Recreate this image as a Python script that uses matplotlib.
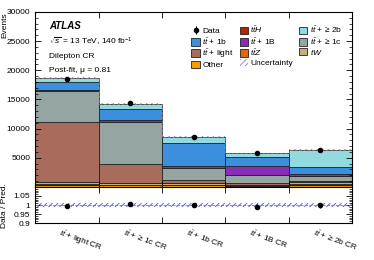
import matplotlib.pyplot as plt
import matplotlib.patches as mpatches
from matplotlib.ticker import MultipleLocator, FixedLocator
import numpy as np

plt.rcParams['font.family'] = ['Liberation Sans', 'DejaVu Sans']
plt.rcParams['mathtext.fontset'] = 'custom'
plt.rcParams['mathtext.rm'] = 'Liberation Sans'
plt.rcParams['mathtext.it'] = 'Liberation Sans:italic'
plt.rcParams['mathtext.bf'] = 'Liberation Sans:bold'
plt.rcParams['hatch.linewidth'] = 0.6

# Regions
regions = [r"$t\bar{t}$ + light CR", r"$t\bar{t}$ + ≥ 1c CR", r"$t\bar{t}$ + 1b CR",
           r"$t\bar{t}$ + 1B CR", r"$t\bar{t}$ + ≥ 2b CR"]

# Stack components (bottom to top)
other = [350, 300, 250, 150, 300]
ttz = [60, 60, 60, 50, 80]
tth = [50, 50, 60, 50, 100]
tw = [400, 350, 250, 150, 350]
tt_light = [10340, 3240, 580, 200, 120]
tt_1c = [5200, 7100, 2000, 1500, 950]
tt_1B = [300, 400, 400, 1500, 300]
tt_1b = [1300, 1800, 3900, 1500, 1200]
tt_2b = [700, 1000, 1100, 700, 3000]

data = [18550, 14400, 8600, 5750, 6390]
unc = [190, 140, 90, 60, 65]

stack = [
    (other, '#f5a000', 'Other'),
    (ttz, '#e8650a', r'$t\bar{t}Z$'),
    (tth, '#b82000', r'$t\bar{t}H$'),
    (tw, '#c2b27a', r'$tW$'),
    (tt_light, '#a86c5c', r'$t\bar{t}$ + light'),
    (tt_1c, '#95a5a2', r'$t\bar{t}$ + ≥ 1c'),
    (tt_1B, '#8a2cb8', r'$t\bar{t}$ + 1B'),
    (tt_1b, '#3b8fdc', r'$t\bar{t}$ + 1b'),
    (tt_2b, '#92dade', r'$t\bar{t}$ + ≥ 2b'),
]

fs = 6
x = np.arange(len(regions)) + 0.5
fig = plt.figure(figsize=(3.74, 2.6), dpi=100)
ax = fig.add_axes([0.094, 0.281, 0.847, 0.673])
rax = fig.add_axes([0.094, 0.142, 0.847, 0.139], sharex=ax)

bottom = np.zeros(len(x))
handles = {}
for vals, col, lab in stack:
    vals = np.array(vals, float)
    ax.bar(x, vals, width=1.0, bottom=bottom, color=col, edgecolor='#222222', linewidth=0.6)
    handles[lab] = mpatches.Patch(facecolor=col, edgecolor='#222222', linewidth=0.6, label=lab)
    bottom += vals
total = bottom
unc = np.array(unc, float)
data = np.array(data, float)

ax.bar(x, 2 * unc, width=1.0, bottom=total - unc, fill=False, hatch='//////',
       edgecolor='#8080e8', linewidth=0)
ax.stairs(total, np.arange(len(x) + 1), color='#777777', linestyle='--', linewidth=0.6)
data_h = ax.errorbar(x, data, yerr=np.sqrt(data), fmt='o', color='k', markersize=3,
                     linewidth=0.8, label='Data')

ratio = data / total
rel = unc / total
rax.bar(x, 2 * rel, width=1.0, bottom=1 - rel, fill=False, hatch='//////',
        edgecolor='#5050dd', linewidth=0)
rax.axhline(1, color='#7070e0', linestyle='--', linewidth=0.6)
rax.errorbar(x, ratio, yerr=np.sqrt(data) / total, fmt='o', color='k', markersize=3, linewidth=0.8)

ax.set_xlim(0, 5)
ax.set_ylim(0, 30000)
rax.set_ylim(0.9, 1.1)

for a in (ax, rax):
    a.tick_params(direction='in', top=True, right=True, which='both', labelsize=fs)
    a.tick_params(which='major', length=4, width=0.6)
    a.tick_params(which='minor', length=2, width=0.5)
    for s in a.spines.values():
        s.set_linewidth(0.8)
ax.xaxis.set_major_locator(FixedLocator([1, 2, 3, 4]))
ax.xaxis.set_minor_locator(FixedLocator([]))
ax.tick_params(axis='x', labelbottom=False)
ax.set_yticks([5000, 10000, 15000, 20000, 25000, 30000])
ax.yaxis.set_minor_locator(MultipleLocator(1000))
rax.set_yticks([0.9, 0.95, 1.0, 1.05])
rax.set_yticklabels(['0.9', '0.95', '1', '1.05'])
rax.yaxis.set_minor_locator(MultipleLocator(0.01))
rax.tick_params(axis='x', labelbottom=False)
for xi, lab in zip(x, regions):
    rax.text(xi - 0.08, -0.12, lab, transform=rax.get_xaxis_transform(), rotation=-20,
             rotation_mode='anchor', ha='left', va='top', fontsize=fs)

ax.set_ylabel('Events', fontsize=fs, loc='top')
ax.yaxis.set_label_coords(-0.085, 1.0)
rax.set_ylabel('Data / Pred.', fontsize=fs)
rax.yaxis.set_label_coords(-0.085, 0.5)

ax.text(0.045, 0.9, 'ATLAS', transform=ax.transAxes, fontsize=7, fontweight='bold', style='italic')
ax.text(0.045, 0.815, r'$\sqrt{s}$ = 13 TeV, 140 fb$^{-1}$', transform=ax.transAxes, fontsize=fs)
ax.text(0.045, 0.735, 'Dilepton CR', transform=ax.transAxes, fontsize=fs)
ax.text(0.045, 0.655, 'Post-fit, μ = 0.81', transform=ax.transAxes, fontsize=fs)

unc_h = mpatches.Patch(facecolor='none', edgecolor='#8080e8', hatch='//////', linewidth=0, label='Uncertainty')
order = [data_h, handles[r'$t\bar{t}$ + 1b'], handles[r'$t\bar{t}$ + light'], handles['Other'],
         handles[r'$t\bar{t}H$'], handles[r'$t\bar{t}$ + 1B'], handles[r'$t\bar{t}Z$'], unc_h,
         handles[r'$t\bar{t}$ + ≥ 2b'], handles[r'$t\bar{t}$ + ≥ 1c'], handles[r'$tW$']]
ax.legend(handles=order, ncol=3, loc='upper left', bbox_to_anchor=(0.48, 0.95), frameon=False,
          fontsize=fs, handlelength=1.0, handleheight=1.0, handletextpad=0.3,
          columnspacing=0.7, labelspacing=0.1, borderpad=0)

fig.savefig('out.png', dpi=100)
